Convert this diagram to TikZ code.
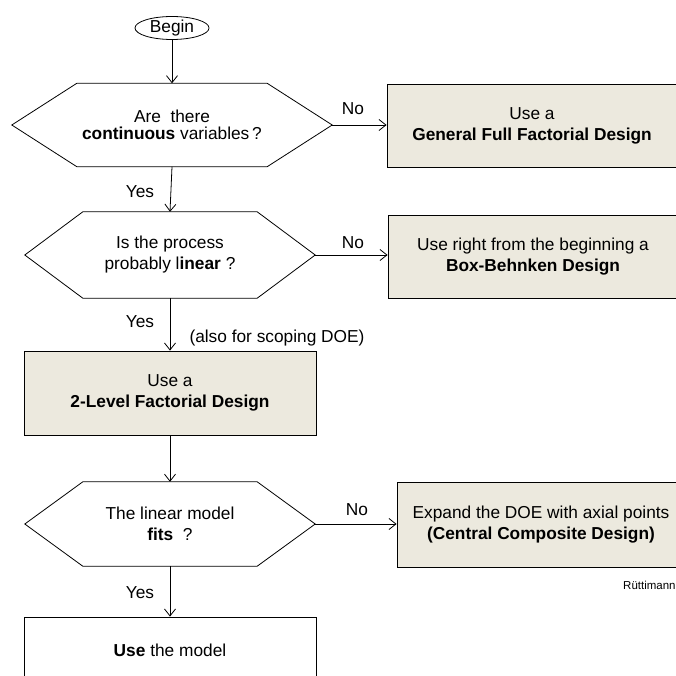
\documentclass[tikz,border=0pt]{standalone}
\usepackage{fontspec}
\setmainfont{Liberation Sans}
\usetikzlibrary{arrows.meta,shapes.geometric,calc}
\definecolor{boxfill}{RGB}{236,233,222}
\tikzset{
  ln/.style={line width=0.8pt, draw=black},
  arr/.style={ln, -{Straight Barb[length=7pt,width=11pt,line width=0.8pt]}},
  hexbox/.style={draw=none, inner sep=0pt, font=\fontsize{17.3}{21}\selectfont, align=center},
  filledbox/.style={ln, fill=boxfill, inner sep=0pt, font=\fontsize{17.3}{21}\selectfont, align=center},
  lbl/.style={font=\fontsize{17.3}{20}\selectfont, inner sep=0pt}
}
\newcommand\hexdraw[2]{\draw[ln] (#1.west) -- ([xshift=#2]#1.north west) -- ([xshift=-#2]#1.north east) -- (#1.east) -- ([xshift=-#2]#1.south east) -- ([xshift=#2]#1.south west) -- cycle;}
\begin{document}
\begin{tikzpicture}[x=1pt,y=-1pt]
\useasboundingbox (0,0) rectangle (676,676);
% start
\node[ellipse, ln, minimum width=74pt, minimum height=23pt, inner sep=0pt, font=\fontsize{17.3}{20}\selectfont] (begin) at (172,28) {Begin};
% decisions
\node[hexbox, minimum width=320pt, minimum height=83pt, font=\fontsize{17.3}{17}\selectfont] (q1) at (172,125) {Are\ \ there\\\textbf{continuous} variables\,?};
\hexdraw{q1}{65pt}
\node[hexbox, minimum width=290pt, minimum height=86pt] (q2) at (170,255) {Is the process\\probably l\textbf{inear} ?};
\hexdraw{q2}{58pt}
\node[hexbox, minimum width=290pt, minimum height=84pt] (q3) at (170,524) {The linear model\\\textbf{fits}\ \ ?};
\hexdraw{q3}{58pt}
% boxes
\node[filledbox, minimum width=290pt, minimum height=83pt] (b1) at (532,125.5) {Use a\\\textbf{General Full Factorial Design}};
\node[filledbox, minimum width=290pt, minimum height=83pt] (b2) at (533,256.5) {Use right from the beginning a\\\textbf{Box-Behnken Design}};
\node[filledbox, minimum width=292pt, minimum height=84pt] (b3) at (170,393) {Use a\\\textbf{2-Level Factorial Design}};
\node[filledbox, minimum width=288pt, minimum height=85pt] (b4) at (541,524.5) {Expand the DOE with axial points\\\textbf{(Central Composite Design)}};
\node[ln, fill=white, inner sep=0pt, minimum width=292pt, minimum height=66pt, font=\fontsize{17.3}{21}\selectfont] (b5) at (170,650) {\textbf{Use} the model};
% connectors
\draw[arr] (begin.south) -- (q1.north);
\draw[arr] (q1.east) -- (q1.east -| b1.west);
\draw[arr] (q1.south) -- (q2.north);
\draw[arr] (q2.east) -- (q2.east -| b2.west);
\draw[arr] (q2.south) -- (b3.north);
\draw[arr] (b3.south) -- (q3.north);
\draw[arr] (q3.east) -- (q3.east -| b4.west);
\draw[arr] (q3.south) -- (b5.north);
% labels
\node[lbl] (no1) at (353,109) {No};
\node[lbl] (no2) at (353,243) {No};
\node[lbl] (no3) at (357,510) {No};
\node[lbl] (yes1) at (140,192) {Yes};
\node[lbl] (yes2) at (140,322) {Yes};
\node[lbl] (yes3) at (140,593) {Yes};
\node[lbl] (also) at (277,338) {(also for scoping DOE)};
\node[anchor=west, inner sep=0pt, font=\fontsize{11.5}{13}\selectfont] (auth) at (623,585) {Rüttimann};
\end{tikzpicture}
\end{document}
